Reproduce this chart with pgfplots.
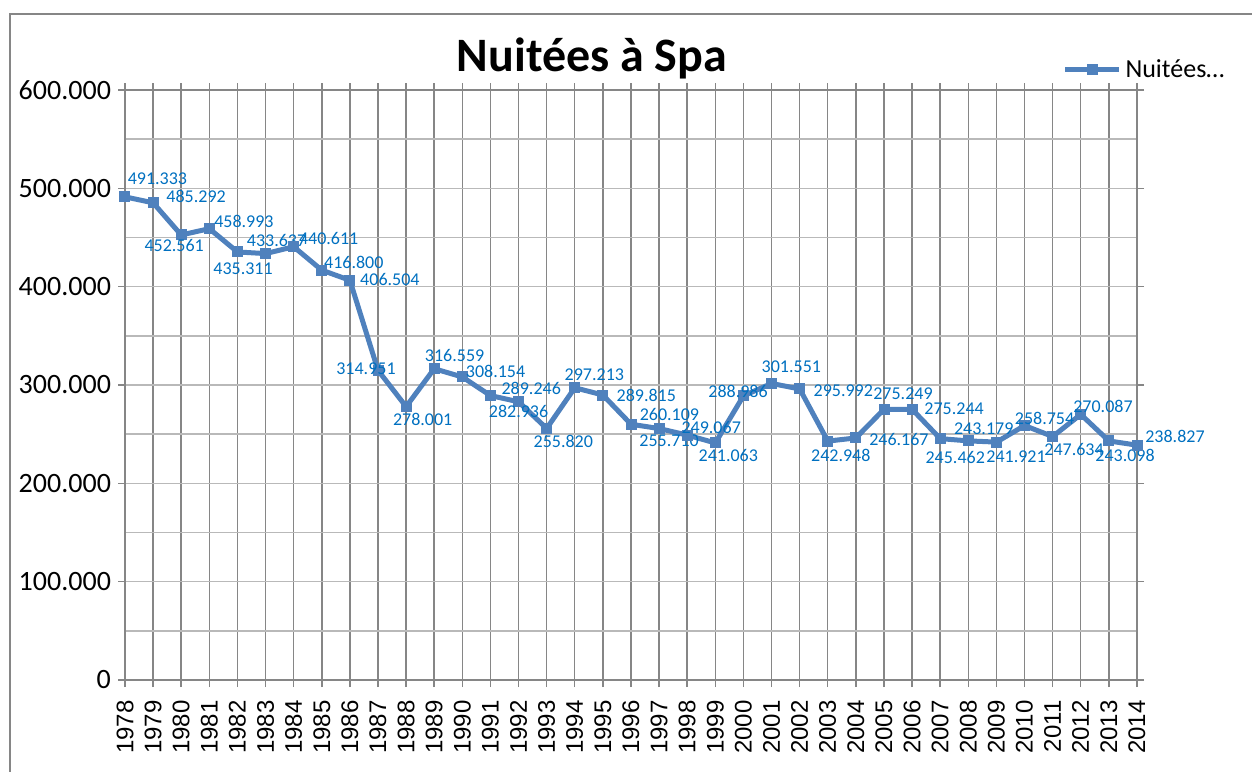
\documentclass[border=0pt]{standalone}
\usepackage{pgfplots}
\pgfplotsset{compat=1.18}
\usepackage{pgfplotstable}
\usepackage{fontspec}
\setmainfont{Carlito}
\newfontfamily\arialf{Liberation Sans}
\definecolor{serie}{RGB}{79,129,189}
\definecolor{lab}{RGB}{0,112,192}
\definecolor{grd}{RGB}{134,134,134}
\definecolor{hgrd}{RGB}{185,185,185}

\pgfplotstableread{
year y dx dy
1978 491333 16.2 9
1979 485292 21.5 3.3
1980 452561 -3.5 -5.5
1981 458993 17.3 3.6
1982 435311 2.8 -8.5
1983 433637 5.5 6.8
1984 440611 17.5 4
1985 416800 16 3.8
1986 406504 20 0.6
1987 314951 -6 0.8
1988 278001 8.3 -6.2
1989 316559 10.2 6.8
1990 308154 16.6 2.8
1991 289246 20.4 3.6
1992 282936 0 -5
1993 255820 8.3 -6.5
1994 297213 9.8 6.7
1995 289815 21.7 0
1996 260109 19.2 4.8
1997 255710 5 -6
1998 249067 12 4
1999 241063 6.5 -6.5
2000 288986 -2.7 2
2001 301551 9.9 8.6
2002 295992 21.8 -0.9
2003 242948 6.5 -7
2004 246167 21.5 -0.7
2005 275249 9.5 8
2006 275244 21 0.5
2007 245462 7.5 -9.2
2008 243179 7.7 6.3
2009 241921 9.8 -7.5
2010 258754 10 3.6
2011 247634 10.7 -6.4
2012 270087 11.1 4.2
2013 243098 8.1 -7
2014 238827 19 4.6
}\data

\begin{document}
\begin{tikzpicture}[x=1pt,y=1pt]
\path[use as bounding box] (0,0) rectangle (626,385.5);
\draw[grd, line width=0.8pt] (5,-20) -- (5,378.5) -- (660,378.5);
\node[anchor=base, font=\bfseries\fontsize{24}{28}\selectfont] at (296,349.5) {Nuitées à Spa};
\begin{axis}[
  at={(62.5pt,45.5pt)}, anchor=south west,
  scale only axis, width=506pt, height=295pt,
  clip=false,
  xmin=1978, xmax=2014, ymin=0, ymax=600000,
  xtick={1978,...,2014},
  ytick={0,100000,...,600000},
  minor ytick={50000,150000,...,550000},
  scaled y ticks=false,
  grid=both,
  major x grid style={grd, line width=0.75pt},
  major y grid style={hgrd, line width=0.75pt},
  minor y grid style={hgrd, line width=0.75pt},
  axis line style={grd, line width=0.75pt},
  tick style={grd, line width=0.75pt},
  tick align=outside,
  major tick length=3.5pt,
  minor tick length=0pt,
  /pgf/number format/assume math mode=true,
  /pgf/number format/.cd, fixed, precision=0, 1000 sep={.},
  /pgfplots/.cd,
  xticklabel={\arialf\fontsize{12}{14}\selectfont\pgfmathprintnumber[1000 sep={}]{\tick}},
  x tick label style={rotate=90, anchor=east, inner xsep=6.5pt},
  y tick label style={font=\fontsize{14}{16}\selectfont},
  legend style={at={(rel axis cs:0.926,1.034)}, anchor=west, draw=none, fill=none, font=\fontsize{13}{15}\selectfont, inner sep=0pt},
  legend image code/.code={\draw[mark repeat=2,mark phase=2,#1] plot coordinates {(0pt,0pt) (13.5pt,0pt) (27pt,0pt)};},
]
\addplot[serie, line width=2.5pt, mark=square*, mark size=2.5pt, mark options={solid, line width=0pt},
  visualization depends on={\thisrow{dx}\as\dx},
  visualization depends on={\thisrow{dy}\as\dy},
  nodes near coords,
  every node near coord/.append style={anchor=center, xshift=\dx pt, yshift=\dy pt, text=lab, font=\fontsize{9}{10}\selectfont, inner sep=0pt},
] table[x=year, y=y] {\data};
\addlegendentry{Nuitées…}
\end{axis}
\end{tikzpicture}
\end{document}
